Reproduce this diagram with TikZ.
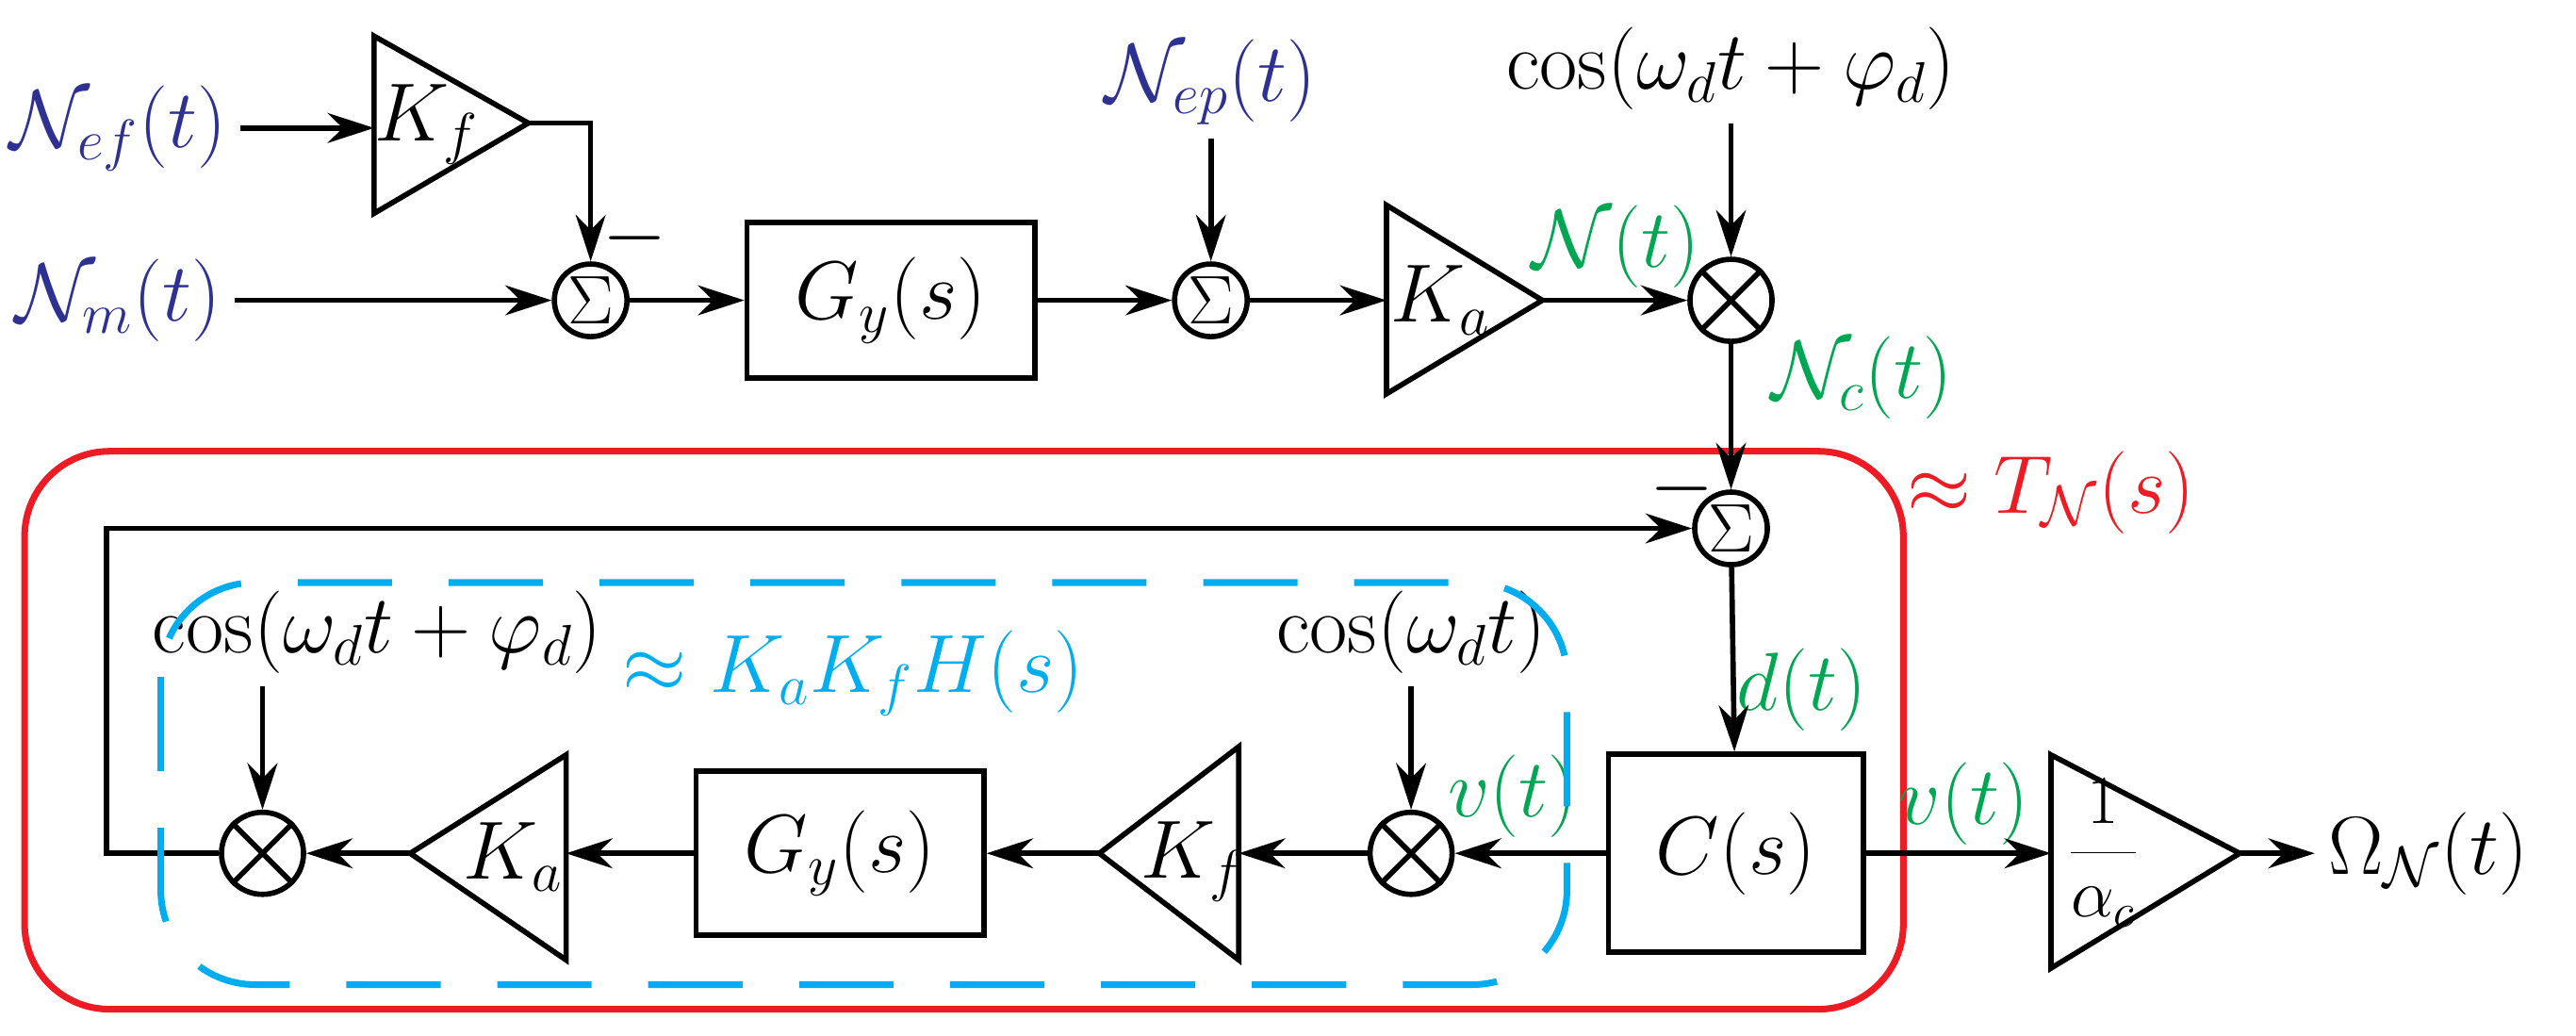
\documentclass[tikz,border=0pt]{standalone}
\usetikzlibrary{arrows.meta,shapes.geometric}
\definecolor{nblue}{RGB}{46,49,146}
\definecolor{ngreen}{RGB}{0,166,81}
\definecolor{nred}{RGB}{237,28,36}
\definecolor{ncyan}{RGB}{0,174,239}
\begin{document}
\begin{tikzpicture}[x=0.0174cm,y=-0.0174cm,
  line width=1.6pt,
  every node/.style={font=\fontsize{25}{30}\selectfont},
  arr/.style={-{Stealth[length=14pt,width=9pt]}},
  sum/.style={circle,draw,minimum size=0.77cm,inner sep=0pt,font=\fontsize{22}{24}\selectfont},
  mul/.style={circle,draw,minimum size=0.87cm,inner sep=0pt},
  blk/.style={draw,rectangle,inner sep=0pt},
  tri/.style={line width=1.6pt}]
\useasboundingbox (0,0) rectangle (1570,631);
% top row
\node[text=nblue] (nef) at (72,78) {$\mathcal{N}_{ef}(t)$};
\node[text=nblue] (nm) at (72,183) {$\mathcal{N}_m(t)$};
\draw[tri] (228,22) -- (322,75) -- (228,130) -- cycle;
\coordinate (kf1in) at (228,78); \coordinate (kf1out) at (322,75);
\node at (260,76) {$K_f$};
\node[sum] (s1) at (360,183) {$\Sigma$};
\node at (387,145) {$-$};
\node[blk,minimum width=3.05cm,minimum height=1.65cm] (gy1) at (543,183) {$G_y(s)$};
\node[sum] (s2) at (738,183) {$\Sigma$};
\node[text=nblue] (nep) at (738,50) {$\mathcal{N}_{ep}(t)$};
\draw[tri] (845,125) -- (940,183) -- (845,240) -- cycle;
\coordinate (ka1in) at (845,183); \coordinate (ka1out) at (940,183);
\node at (878,183) {$K_a$};
\node[text=ngreen] at (985,150) {$\mathcal{N}(t)$};
\node[mul] (m1) at (1055,183) {};
\draw (m1.45)--(m1.225) (m1.135)--(m1.315);
\node (cos1) at (1055,42) {$\cos(\omega_d t+\varphi_d)$};
\node[text=ngreen] at (1135,230) {$\mathcal{N}_c(t)$};
\draw[arr] (nef.east) -- (kf1in);
\draw[arr] (kf1out) -| (s1.north);
\draw[arr] (nm.east) -- (s1.west);
\draw[arr] (s1) -- (gy1);
\draw[arr] (gy1) -- (s2);
\draw[arr] (nep.south) -- (s2.north);
\draw[arr] (s2) -- (ka1in);
\draw[arr] (ka1out) -- (m1);
\draw[arr] (cos1.south) -- (m1.north);
% red box
\draw[nred,line width=2pt,rounded corners=0.9cm] (15,275) rectangle (1160,615);
\node[text=nred] at (1250,300) {$\approx T_{\mathcal{N}}(s)$};
\node[sum] (s3) at (1055,322) {$\Sigma$};
\node at (1025,298) {$-$};
\draw[arr] (m1) -- (s3);
\node[blk,minimum width=2.7cm,minimum height=2.1cm] (cs) at (1058,520) {$C(s)$};
\node[text=ngreen] at (1098,420) {$d(t)$};
\draw[arr] (s3) -- (cs);
\draw[tri] (1250,460) -- (1365,520) -- (1250,590) -- cycle;
\coordinate (acin) at (1250,520); \coordinate (acout) at (1365,520);
\node[font=\fontsize{21}{24}\selectfont] at (1282,520) {$\displaystyle\frac{1}{\alpha_c}$};
\node[text=ngreen] at (1197,490) {$v(t)$};
\node (om) at (1480,520) {$\Omega_{\mathcal{N}}(t)$};
\draw[arr] (cs) -- (acin);
\draw[arr] (acout) -- (om.west);
% inner loop
\node[mul] (m2) at (860,520) {};
\draw (m2.45)--(m2.225) (m2.135)--(m2.315);
\node (cos2) at (860,385) {$\cos(\omega_d t)$};
\node[text=ngreen] at (922,485) {$v(t)$};
\draw[arr] (cs) -- (m2);
\draw[arr] (cos2.south) -- (m2.north);
\draw[tri] (755,455) -- (670,520) -- (755,585) -- cycle;
\coordinate (kf2in) at (755,520); \coordinate (kf2out) at (670,520);
\node at (727,525) {$K_f$};
\node[blk,minimum width=3.05cm,minimum height=1.74cm] (gy2) at (512,520) {$G_y(s)$};
\draw[tri] (345,460) -- (250,520) -- (345,585) -- cycle;
\coordinate (ka2in) at (345,520); \coordinate (ka2out) at (250,520);
\node at (313,522) {$K_a$};
\node[mul] (m3) at (160,520) {};
\draw (m3.45)--(m3.225) (m3.135)--(m3.315);
\node (cos3) at (230,385) {$\cos(\omega_d t+\varphi_d)$};
\draw[arr] (m2) -- (kf2in);
\draw[arr] (kf2out) -- (gy2);
\draw[arr] (gy2) -- (ka2in);
\draw[arr] (ka2out) -- (m3);
\draw[arr] (cos3.south -| m3) -- (m3.north);
\coordinate (fbl) at (65,322);
\draw[arr] (m3.west) -- (65,520) -- (fbl) -- (s3.west);
% blue dashed
\draw[ncyan,line width=2pt,dash pattern=on 1.0cm off 0.6cm,rounded corners=1.0cm] (98,355) rectangle (955,600);
\node[text=ncyan] at (520,410) {$\approx K_aK_fH(s)$};
\end{tikzpicture}
\end{document}
